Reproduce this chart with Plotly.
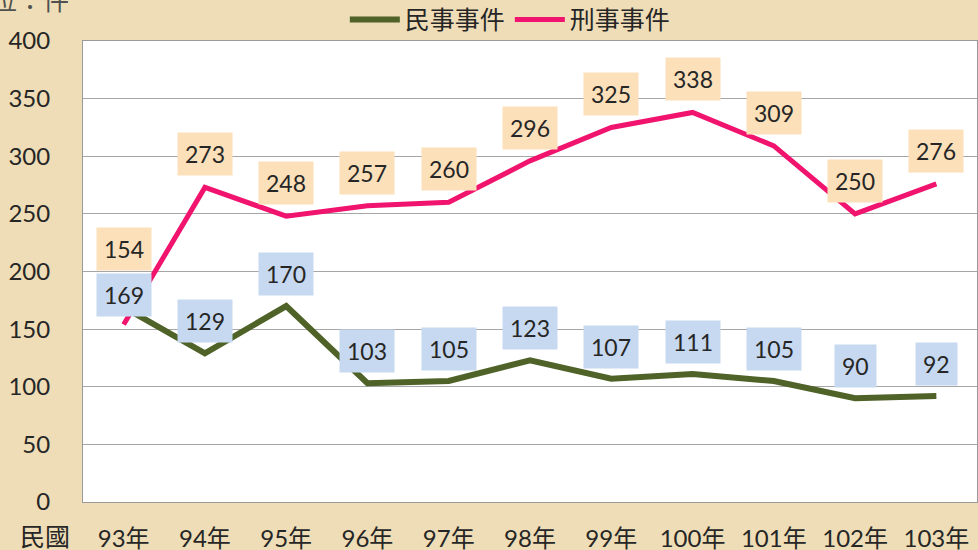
import plotly.graph_objects as go

years = ['93年', '94年', '95年', '96年', '97年', '98年', '99年', '100年', '101年', '102年', '103年']
civil = [169, 129, 170, 103, 105, 123, 107, 111, 105, 90, 92]
criminal = [154, 273, 248, 257, 260, 296, 325, 338, 309, 250, 276]

font_fam = 'Lato, "Noto Sans CJK TC", sans-serif'
green = '#4F6228'
pink = '#F0146E'
bg = '#EEDDB6'

fig = go.Figure()
fig.add_trace(go.Scatter(x=years, y=civil, mode='lines', name='民事事件',
                         line=dict(color=green, width=6)))
fig.add_trace(go.Scatter(x=years, y=criminal, mode='lines', name='刑事事件',
                         line=dict(color=pink, width=5)))

# data labels, shifted up above the points
for i, (yr, v) in enumerate(zip(years, criminal)):
    shift = 76 if i == 0 else 33
    fig.add_annotation(x=yr, y=v, text=str(v), showarrow=False, yshift=shift,
                       bgcolor='#FBE0BA', borderpad=7,
                       font=dict(size=23, color='#262626', family=font_fam))
for i, (yr, v) in enumerate(zip(years, civil)):
    shift = 12 if i == 0 else 32
    fig.add_annotation(x=yr, y=v, text=str(v), showarrow=False, yshift=shift,
                       bgcolor='#C6D9F0', borderpad=7,
                       font=dict(size=23, color='#262626', family=font_fam))

# unit label, mostly above the top edge like the original
fig.add_annotation(xref='paper', yref='paper', x=-0.013, y=1.05, xanchor='right', yanchor='bottom',
                   text='單位：件', showarrow=False,
                   font=dict(size=26, color='#505050', family=font_fam))
fig.add_annotation(xref='paper', yref='paper', x=-0.043, y=0, xanchor='center', yanchor='top',
                   yshift=-17, text='民國', showarrow=False,
                   font=dict(size=25, color='#262626', family=font_fam))

fig.update_layout(
    width=978, height=550,
    margin=dict(l=83, r=1, t=41, b=48, autoexpand=False),
    paper_bgcolor=bg,
    plot_bgcolor='white',
    font=dict(family=font_fam, size=23, color='#262626'),
    showlegend=True,
    legend=dict(orientation='h', x=0.478, xanchor='center', y=1.046, yanchor='middle',
                bgcolor='rgba(0,0,0,0)', font=dict(size=25, color='#262626'),
                itemwidth=50, tracegroupgap=0),
)
fig.update_xaxes(type='category', range=[-0.5, 10.5], showgrid=False, ticks='',
                 showline=True, linecolor='#9A9A9A', linewidth=1, mirror=True,
                 ticklabelstandoff=15, tickfont=dict(size=24))
fig.update_yaxes(range=[0, 400], dtick=50, showgrid=True, gridcolor='#A6A6A6', gridwidth=1,
                 showline=True, linecolor='#9A9A9A', linewidth=1, mirror=True,
                 zeroline=False, ticks='', ticklabelstandoff=27, tickfont=dict(size=24))

# drop the default page margin so the figure fills the window
fig.write_html("out.html", config={'displayModeBar': False},
               post_script="document.body.style.margin='0';document.body.style.background='%s';" % bg)
